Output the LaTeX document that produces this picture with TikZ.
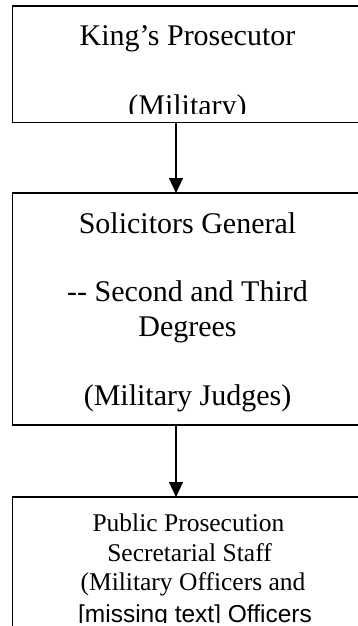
\documentclass[tikz,border=0pt]{standalone}
\usepackage{fontspec}
\setmainfont{Liberation Serif}
\newfontfamily\arialfont{Liberation Sans}
\usetikzlibrary{arrows.meta}

\tikzset{
  orgbox/.style={draw, line width=1.5pt, inner sep=0pt, outer sep=0pt, minimum width=349.3pt},
  bigline/.style={anchor=base, inner sep=0pt, font=\fontsize{30}{34.5}\selectfont},
  smallline/.style={anchor=base, inner sep=0pt, font=\fontsize{25.5}{29.5}\selectfont},
  sansline/.style={anchor=base, inner sep=0pt, font=\arialfont\fontsize{24.5}{29.5}\selectfont},
  link/.style={line width=1.2pt, -{Triangle[width=14pt,length=15pt]}}
}

\begin{document}
\begin{tikzpicture}[x=1pt, y=-1pt]
  \useasboundingbox (0,0) rectangle (358,626);
  \clip (0,0) rectangle (358,626);

  % boxes (right edges and the bottom of the last one run off the page)
  \node[orgbox, minimum height=116.5pt] (kp) at (187.35,64.25) {};
  \node[orgbox, minimum height=232pt]   (sg) at (187.35,309) {};
  \node[orgbox, minimum height=203pt]   (ps) at (187.35,598.5) {};

  % King's Prosecutor text, cut off by its text frame
  \begin{scope}
    \clip (12,6) rectangle (362,113.5);
    \node[bigline] (kp1) at (187.5,45.5) {King’s Prosecutor};
    \node[bigline] (kp2) at (187.5,115.5) {(Military)};
  \end{scope}

  % Solicitors General text
  \node[bigline] (sg1) at (187.5,233) {Solicitors General};
  \node[bigline] (sg2) at (187.5,301) {{-}{-} Second and Third};
  \node[bigline] (sg3) at (187.5,336.5) {Degrees};
  \node[bigline] (sg4) at (187.5,405.5) {(Military Judges)};

  % Public Prosecution text, cut off at the page bottom
  \begin{scope}
    \clip (12,497) rectangle (362,622);
    \node[smallline] (ps1) at (188.5,531.5) {Public Prosecution};
    \node[smallline] (ps2) at (189.5,561) {Secretarial Staff};
    \node[smallline] (ps3) at (193,590.5) {(Military Officers and};
    \node[sansline]  (ps4) at (195,622) {[missing text] Officers};
  \end{scope}

  % connectors
  \draw[link] ([xshift=-11.35pt]kp.south) -- ([xshift=-11.35pt]sg.north);
  \draw[link] ([xshift=-11.35pt]sg.south) -- ([xshift=-11.35pt]ps.north);
\end{tikzpicture}
\end{document}
